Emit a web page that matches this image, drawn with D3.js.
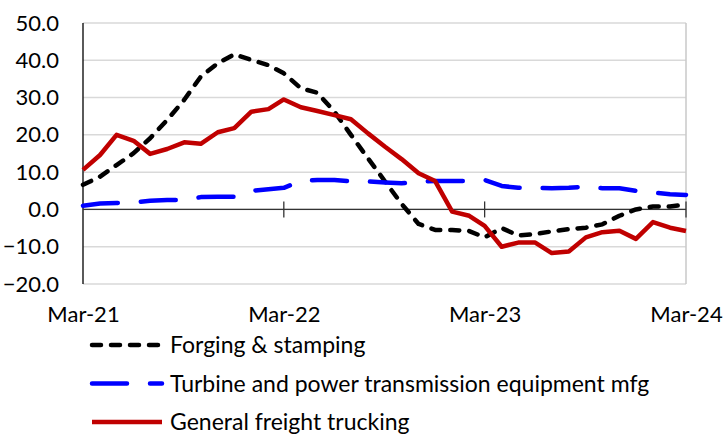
<!DOCTYPE html>
<html>
<head>
<meta charset="utf-8">
<script src="https://cdn.jsdelivr.net/npm/d3@7"></script>
<style>
  body { margin: 0; background: #fff; }
  svg text { font-family: Lato, "Liberation Sans", sans-serif; fill: #000; }
</style>
</head>
<body>
<svg id="chart" width="724" height="434"></svg>
<script>
// monthly, Mar-21 .. Mar-24
var startMonth = new Date(2021, 2, 1);
var endMonth = new Date(2024, 3, 1);
var tickLabels = ["Mar-21", "Mar-22", "Mar-23", "Mar-24"];
var yTicks = [-20, -10, 0, 10, 20, 30, 40, 50];

var seriesNames = ["Forging & stamping", "Turbine and power transmission equipment mfg", "General freight trucking"];

var forging = [6.6, 8.8, 11.9, 15.1, 19.1, 24.0, 29.4, 35.6, 39.2, 41.6, 40.1, 38.7,
  36.5, 32.5, 31.3, 26.2, 20.0, 13.7, 7.5, 1.5, -3.9, -5.5, -5.5, -5.8,
  -7.5, -5.0, -7.0, -6.6, -5.9, -5.3, -4.9, -4.0, -1.7, 0.0, 0.8, 0.8, 1.3];
var turbine = [1.0, 1.6, 1.7, 1.9, 2.3, 2.5, 2.5, 3.3, 3.4, 3.4, 5.0, 5.4,
  5.8, 7.6, 7.9, 7.9, 7.5, 7.5, 7.2, 7.0, 7.5, 7.6, 7.6, 7.6,
  7.9, 6.3, 5.8, 5.8, 5.7, 5.8, 6.1, 5.7, 5.7, 5.0, 4.5, 4.1, 3.9];
var trucking = [10.6, 14.6, 20.0, 18.4, 14.9, 16.2, 18.0, 17.6, 20.7, 21.8, 26.2, 26.9,
  29.5, 27.4, 26.4, 25.3, 24.2, 20.4, 16.8, 13.5, 9.7, 7.6, -0.6, -1.7,
  -4.4, -10.0, -8.9, -8.9, -11.7, -11.3, -7.5, -6.1, -5.7, -7.9, -3.4, -4.9, -5.8];

var months = d3.timeMonth.range(startMonth, endMonth);
var tickDates = tickLabels.map(function(t, i) { return d3.timeYear.offset(startMonth, i); });

var svg = d3.select("#chart");
var plotLeft = 83, plotRight = 686, plotTop = 23, plotBottom = 284;

var x = d3.scaleTime().domain([months[0], months[months.length - 1]]).range([plotLeft, plotRight]);
var y = d3.scaleLinear().domain([-20, 50]).range([plotBottom, plotTop]);

// gridlines
svg.append("g").selectAll("line").data(yTicks).enter().append("line")
    .attr("x1", plotLeft).attr("x2", plotRight)
    .attr("y1", function(d) { return y(d); }).attr("y2", function(d) { return y(d); })
    .attr("stroke", "#d9d9d9").attr("stroke-width", 1.5);

// right border
svg.append("line").attr("x1", plotRight).attr("x2", plotRight).attr("y1", plotTop).attr("y2", plotBottom)
    .attr("stroke", "#c8c8c8").attr("stroke-width", 1.5);

// y axis labels
var yAxis = d3.axisLeft(y).tickValues(yTicks).tickSize(0).tickPadding(24)
    .tickFormat(d3.format(".1f"));
svg.append("g").attr("transform", "translate(" + plotLeft + ",0)").call(yAxis)
    .call(function(g) { g.select(".domain").remove(); })
    .selectAll("text").style("font-size", "22px").attr("font-family", null);

svg.append("line").attr("x1", plotLeft).attr("x2", plotLeft).attr("y1", plotTop).attr("y2", plotBottom)
    .attr("stroke", "#000").attr("stroke-width", 1.3);

// zero axis with cross ticks
svg.append("line").attr("x1", plotLeft).attr("x2", plotRight).attr("y1", y(0)).attr("y2", y(0))
    .attr("stroke", "#333").attr("stroke-width", 1.3);
svg.append("g").selectAll("line").data(tickDates.slice(1)).enter().append("line")
    .attr("x1", function(d) { return x(d); }).attr("x2", function(d) { return x(d); })
    .attr("y1", y(0) - 8).attr("y2", y(0) + 8)
    .attr("stroke", "#333").attr("stroke-width", 1.3);

// x labels
var xAxis = d3.axisBottom(x).tickValues(tickDates).tickSize(0).tickPadding(22)
    .tickFormat(function(d, i) { return tickLabels[i]; });
svg.append("g").attr("transform", "translate(0," + plotBottom + ")").call(xAxis)
    .call(function(g) { g.select(".domain").remove(); })
    .selectAll("text").style("font-size", "22px").attr("font-family", null);

var styles = [
  { color: "#000000", dash: "9,10" },
  { color: "#0000ff", dash: "35,23" },
  { color: "#c00000", dash: null }
];
var data = [forging, turbine, trucking];

var line = d3.line()
    .x(function(d, i) { return x(months[i]); })
    .y(function(d) { return y(d); });

data.forEach(function(vals, k) {
  svg.append("path").datum(vals)
      .attr("d", line)
      .attr("fill", "none")
      .attr("stroke", styles[k].color)
      .attr("stroke-width", 4.5)
      .attr("stroke-linejoin", "round")
      .attr("stroke-linecap", styles[k].dash ? "round" : "butt")
      .attr("stroke-dasharray", styles[k].dash);
});

// legend
var legend = svg.append("g").selectAll("g").data(seriesNames).enter().append("g")
    .attr("transform", function(d, i) { return "translate(0," + (345 + i * 38.5) + ")"; });
legend.append("line")
    .attr("x1", 92).attr("x2", 162).attr("y1", 0).attr("y2", 0)
    .attr("stroke", function(d, i) { return styles[i].color; })
    .attr("stroke-width", 4.5)
    .attr("stroke-linecap", function(d, i) { return styles[i].dash ? "round" : "butt"; })
    .attr("stroke-dasharray", function(d, i) { return styles[i].dash; });
legend.append("text")
    .attr("x", 170).attr("y", 0).attr("dy", "0.36em")
    .style("font-size", "23px")
    .text(function(d) { return d; });
</script>
</body>
</html>
